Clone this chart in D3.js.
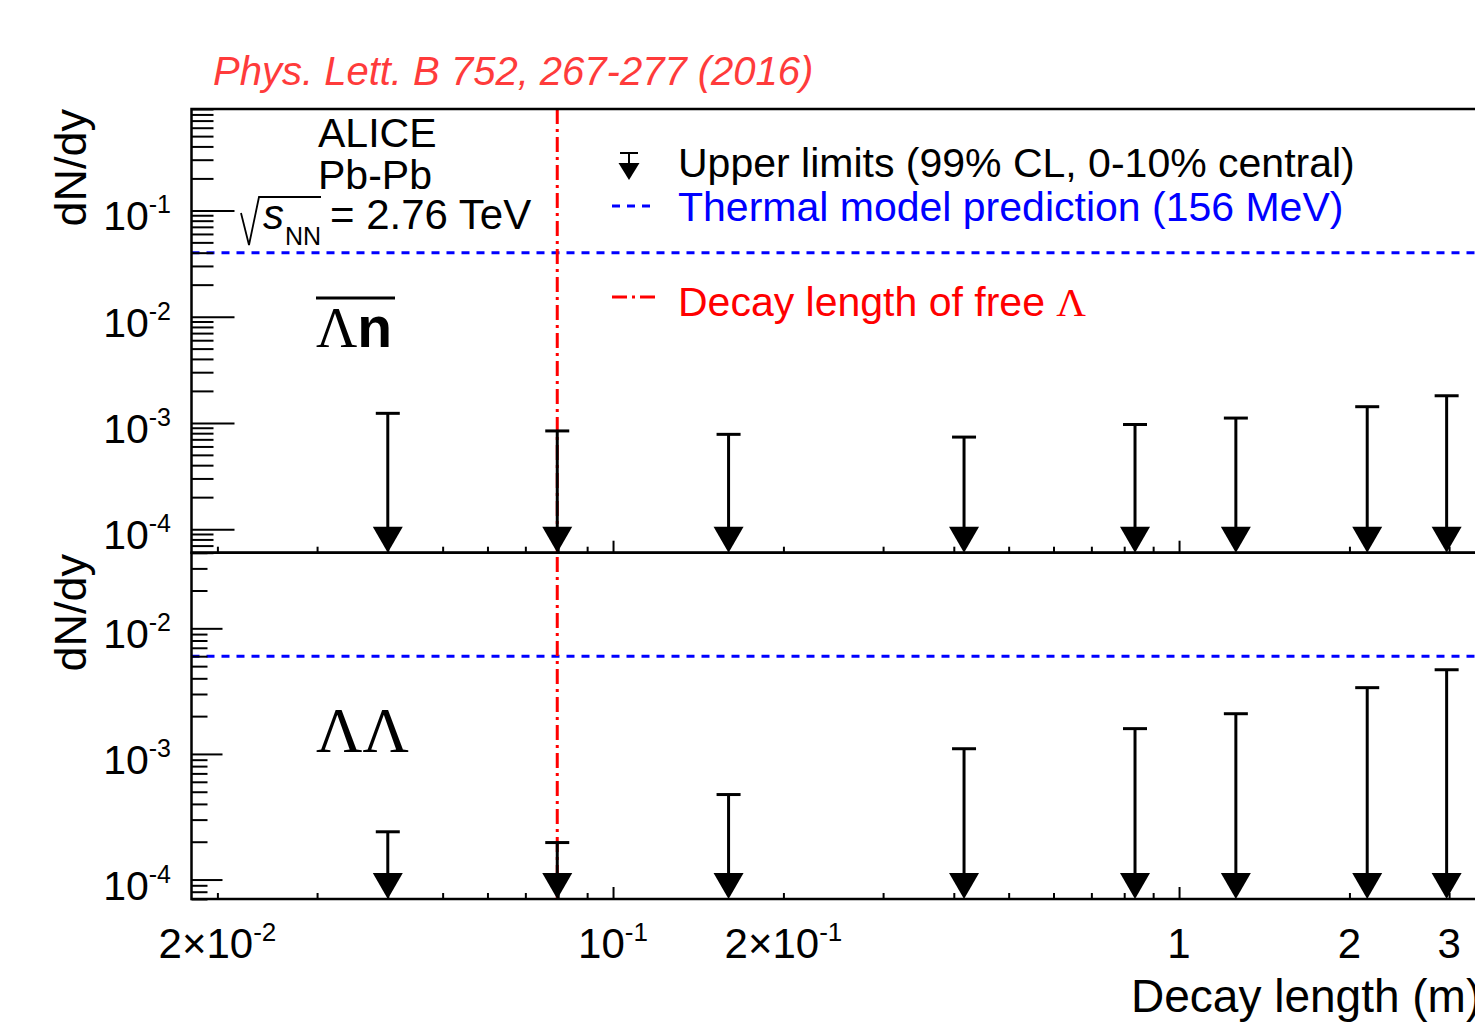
<!DOCTYPE html>
<html><head><meta charset="utf-8">
<script src="https://cdn.jsdelivr.net/npm/d3@7"></script>
<style>
body{margin:0;background:#fff}
text{font-family:"Liberation Sans",Arial,Helvetica,sans-serif}
.serif{font-family:"Liberation Serif","Times New Roman",serif}
</style>
</head><body>
<svg id="c" width="1475" height="1033"></svg>
<script>
// ---------- data ----------
const decayLength = [0.04, 0.0797, 0.16, 0.417, 0.836, 1.26, 2.15, 2.97];
const upperLimitsLambdaBarN = [1.23e-3, 8.4e-4, 7.8e-4, 7.35e-4, 9.65e-4, 1.11e-3, 1.42e-3, 1.8e-3];
const upperLimitsLambdaLambda = [2.4e-4, 1.97e-4, 4.75e-4, 1.1e-3, 1.59e-3, 2.09e-3, 3.37e-3, 4.68e-3];
const thermalPredictionUpper = 0.04;
const thermalPredictionLower = 0.006;
const freeLambdaDecayLength = 0.0797;
const xTickValues = [0.02, 0.1, 0.2, 1, 2, 3];
const xTickBase = ["2×10", "10", "2×10", "1", "2", "3"];
const xTickExp = ["-2", "-1", "-1", "", "", ""];
const xMajorTicks = [0.1, 1];
const yTickValuesUpper = [1e-4, 1e-3, 1e-2, 1e-1];
const yTickExpUpper = ["-4", "-3", "-2", "-1"];
const yTickValuesLower = [1e-4, 1e-3, 1e-2];
const yTickExpLower = ["-4", "-3", "-2"];
const legendLabels = ["Upper limits (99% CL, 0-10% central)", "Thermal model prediction (156 MeV)", "Decay length of free Λ"];

// ---------- layout ----------
const L = 191.5, R = 1487, T1 = 109, B1 = 552.7, B2 = 899;
const svg = d3.select("#c");
const x = d3.scaleLog().domain([0.018, 3.5]).range([L, R]);
const yU = d3.scaleLog().domain([6e-5, 0.9]).range([B1, T1]);
const yLo = d3.scaleLog().domain([7e-5, 0.04]).range([B2, B1]);

// reference lines
function thermal(y, v) {
  svg.append("line").attr("x1", L).attr("x2", R).attr("y1", y(v)).attr("y2", y(v))
    .attr("stroke", "#0000ff").attr("stroke-width", 3).attr("stroke-dasharray", "8,7");
}
thermal(yU, thermalPredictionUpper);
thermal(yLo, thermalPredictionLower);
svg.append("line").attr("x1", x(freeLambdaDecayLength)).attr("x2", x(freeLambdaDecayLength))
  .attr("y1", T1).attr("y2", B2).attr("stroke", "#ff0000").attr("stroke-width", 3)
  .attr("stroke-dasharray", "15,5,3,5");

// upper-limit arrows
function arrows(y, vals, bottom) {
  const g = svg.append("g");
  vals.forEach((v, i) => {
    const cx = x(decayLength[i]), cy = y(v);
    g.append("line").attr("x1", cx).attr("x2", cx).attr("y1", cy).attr("y2", bottom - 24)
      .attr("stroke", "#000").attr("stroke-width", 3);
    g.append("line").attr("x1", cx - 12).attr("x2", cx + 12).attr("y1", cy).attr("y2", cy)
      .attr("stroke", "#000").attr("stroke-width", 3);
    g.append("path").attr("d", `M${cx - 15},${bottom - 26}L${cx + 15},${bottom - 26}L${cx},${bottom}Z`)
      .attr("fill", "#000");
  });
}
arrows(yU, upperLimitsLambdaBarN, B1);
arrows(yLo, upperLimitsLambdaLambda, B2);

// axes
function yAxis(y, majors, exps, majLen, minLen) {
  const minors = y.ticks().filter(t => !majors.some(m => Math.abs(m - t) / m < 1e-6));
  svg.append("g").attr("transform", `translate(${L},0)`)
    .call(d3.axisRight(y).tickValues(minors).tickSize(minLen).tickFormat(""))
    .call(g => g.select(".domain").remove())
    .selectAll("line").attr("stroke-width", 2);
  svg.append("g").attr("transform", `translate(${L},0)`)
    .call(d3.axisRight(y).tickValues(majors).tickSize(majLen).tickFormat(""))
    .call(g => g.select(".domain").remove())
    .selectAll("line").attr("stroke-width", 2);
  majors.forEach((v, i) => {
    const t = svg.append("text").attr("x", 171).attr("y", y(v) + 20)
      .attr("text-anchor", "end").attr("font-size", 41);
    t.append("tspan").text("10");
    t.append("tspan").attr("font-size", 25).attr("dy", -17).text(exps[i]);
  });
}
yAxis(yU, yTickValuesUpper, yTickExpUpper, 43, 22);
yAxis(yLo, yTickValuesLower, yTickExpLower, 31, 16);

function xAxis(bottom) {
  const minors = x.ticks().filter(t => !xMajorTicks.some(m => Math.abs(m - t) / m < 1e-6));
  svg.append("g").attr("transform", `translate(0,${bottom})`)
    .call(d3.axisTop(x).tickValues(minors).tickSize(6).tickFormat(""))
    .call(g => g.select(".domain").remove())
    .selectAll("line").attr("stroke-width", 2);
  svg.append("g").attr("transform", `translate(0,${bottom})`)
    .call(d3.axisTop(x).tickValues(xMajorTicks).tickSize(12).tickFormat(""))
    .call(g => g.select(".domain").remove())
    .selectAll("line").attr("stroke-width", 2);
}
xAxis(B1);
xAxis(B2);
xTickValues.forEach((v, i) => {
  const t = svg.append("text").attr("x", x(v)).attr("y", 958)
    .attr("text-anchor", "middle").attr("font-size", 42);
  t.append("tspan").text(xTickBase[i]);
  if (xTickExp[i]) t.append("tspan").attr("font-size", 26).attr("dy", -17).text(xTickExp[i]);
});

// frames
[[T1, B1], [B1, B2]].forEach(([a, b]) => {
  svg.append("rect").attr("x", L).attr("y", a).attr("width", R - L).attr("height", b - a)
    .attr("fill", "none").attr("stroke", "#000").attr("stroke-width", 2.5);
});

// axis titles
svg.append("text").attr("x", 1131).attr("y", 1012).attr("text-anchor", "start")
  .attr("font-size", 46).text("Decay length (m)");
[[109], [554]].forEach(([yy]) => {
  svg.append("text").attr("transform", `translate(86,${yy}) rotate(-90)`)
    .attr("text-anchor", "end").attr("font-size", 45).text("dN/dy");
});

// reference title
svg.append("text").attr("x", 213).attr("y", 85).attr("font-size", 40)
  .attr("font-style", "italic").attr("fill", "#ff3b3b").text("Phys. Lett. B 752, 267-277 (2016)");

// ALICE labels
svg.append("text").attr("x", 318).attr("y", 147).attr("font-size", 41).text("ALICE");
svg.append("text").attr("x", 318).attr("y", 189).attr("font-size", 41).text("Pb-Pb");
svg.append("path").attr("d", "M241,213L249,245L259,197L321,197")
  .attr("fill", "none").attr("stroke", "#000").attr("stroke-width", 1.8);
svg.append("text").attr("x", 263).attr("y", 229).attr("font-size", 42)
  .attr("font-style", "italic").text("s");
svg.append("text").attr("x", 285).attr("y", 245).attr("font-size", 25).text("NN");
svg.append("text").attr("x", 330).attr("y", 229).attr("font-size", 42).text("= 2.76 TeV");

// panel labels
const pl1 = svg.append("text").attr("x", 316).attr("y", 347);
pl1.append("tspan").attr("class", "serif").attr("font-size", 57).text("Λ");
pl1.append("tspan").attr("font-weight", "bold").attr("font-size", 57).text("n");
svg.append("line").attr("x1", 316).attr("x2", 395).attr("y1", 298).attr("y2", 298)
  .attr("stroke", "#000").attr("stroke-width", 3);
svg.append("text").attr("class", "serif").attr("x", 316).attr("y", 752)
  .attr("font-size", 64).text("ΛΛ");

// legend
const lx = 629;
svg.append("line").attr("x1", lx - 9).attr("x2", lx + 9).attr("y1", 153).attr("y2", 153)
  .attr("stroke", "#000").attr("stroke-width", 2);
svg.append("line").attr("x1", lx).attr("x2", lx).attr("y1", 153).attr("y2", 164)
  .attr("stroke", "#000").attr("stroke-width", 2);
svg.append("path").attr("d", `M${lx - 10.5},163L${lx + 10.5},163L${lx},180Z`).attr("fill", "#000");
svg.append("text").attr("x", 678).attr("y", 177).attr("font-size", 41).text(legendLabels[0]);
svg.append("line").attr("x1", 612).attr("x2", 652).attr("y1", 206).attr("y2", 206)
  .attr("stroke", "#0000ff").attr("stroke-width", 3).attr("stroke-dasharray", "8,7");
svg.append("text").attr("x", 678).attr("y", 221).attr("font-size", 41).attr("fill", "#0000ff").text(legendLabels[1]);
svg.append("line").attr("x1", 612).attr("x2", 656).attr("y1", 297).attr("y2", 297)
  .attr("stroke", "#ff0000").attr("stroke-width", 3).attr("stroke-dasharray", "15,5,3,5");
const lt = svg.append("text").attr("x", 678).attr("y", 316).attr("font-size", 41).attr("fill", "#ff0000");
lt.append("tspan").text(legendLabels[2].slice(0, -1));
lt.append("tspan").attr("class", "serif").text(legendLabels[2].slice(-1));
</script>
</body></html>
